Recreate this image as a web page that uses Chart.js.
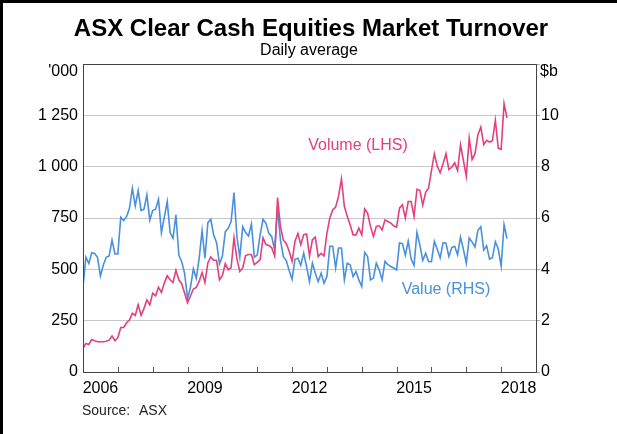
<!DOCTYPE html>
<html>
<head>
<meta charset="utf-8">
<script src="https://cdn.jsdelivr.net/npm/chart.js@4"></script>
<style>
  html, body { margin: 0; padding: 0; background: #fff; }
  #wrap { width: 617px; height: 434px; position: relative; }
</style>
</head>
<body>
<div id="wrap"><canvas id="turnoverChart" width="617" height="434"></canvas></div>
<script>
// monthly, starting Jan 2006
const startYear = 2006;
const yearLabels = ['2006', '2009', '2012', '2015', '2018'];

// daily average volume, '000 (LHS)
const volume = [
  115, 139, 134, 158, 152, 147, 147, 147, 150, 155, 175, 152,
  167, 217, 217, 240, 253, 286, 276, 327, 276, 310, 351, 327,
  384, 371, 413, 387, 433, 469, 449, 436, 495, 449, 430, 384,
  338, 370, 404, 412, 441, 485, 436, 531, 560, 544, 544, 449,
  469, 528, 498, 507, 654, 551, 490, 507, 567, 572, 572, 523,
  534, 547, 654, 621, 616, 605, 564, 850, 708, 642, 626, 588,
  539, 637, 675, 620, 669, 672, 565, 644, 657, 562, 578, 565,
  676, 750, 790, 803, 856, 940, 807, 758, 717, 668, 668, 701,
  668, 794, 774, 709, 660, 709, 712, 692, 741, 733, 725, 712,
  705, 798, 815, 750, 830, 830, 758, 890, 885, 813, 875, 895,
  981, 1063, 1002, 970, 1014, 1063, 986, 997, 1019, 981, 1107, 1030,
  953, 1139, 1035, 1063, 1156, 1193, 1107, 1128, 1120, 1126, 1226, 1090,
  1084, 1307, 1237
];

// daily average value, $b (RHS)
const value = [
  3.32, 4.47, 4.23, 4.65, 4.62, 4.47, 3.74, 4.17, 4.47, 4.52, 5.14, 4.60,
  4.60, 6.03, 5.90, 6.05, 6.38, 7.16, 6.47, 7.07, 6.29, 6.34, 6.90, 5.92,
  6.29, 6.34, 6.73, 5.43, 6.03, 6.64, 5.43, 5.21, 6.12, 4.56, 4.30, 3.84,
  2.86, 3.30, 4.02, 3.65, 4.43, 5.51, 4.43, 5.82, 5.95, 5.34, 5.04, 4.21,
  4.52, 5.47, 5.60, 5.86, 6.99, 5.27, 4.47, 5.66, 5.43, 5.30, 5.77, 4.47,
  4.56, 5.34, 5.95, 5.79, 5.40, 5.27, 4.75, 6.38, 5.14, 4.49, 4.34, 3.95,
  3.61, 4.39, 4.43, 4.15, 4.63, 4.10, 3.52, 4.24, 3.85, 3.52, 3.85, 3.46,
  3.72, 4.90, 4.90, 4.05, 4.83, 4.83, 3.59, 4.24, 4.18, 3.72, 3.92, 3.59,
  3.33, 4.66, 4.50, 3.59, 3.66, 4.24, 3.98, 3.59, 4.31, 4.18, 4.11, 4.05,
  3.98, 5.03, 5.00, 4.55, 5.10, 4.40, 4.15, 5.44, 4.95, 4.35, 4.63, 4.31,
  4.30, 5.09, 4.78, 4.45, 5.04, 5.02, 4.50, 4.85, 4.90, 4.57, 5.26, 4.78,
  4.24, 5.22, 5.06, 4.87, 5.52, 5.66, 4.75, 4.92, 4.40, 4.45, 5.07, 4.80,
  4.12, 5.74, 5.20
];

const pink = '#e2417c';
const blue = '#4a90dc';
const font = 'Liberation Sans, Arial, sans-serif';

const asPoints = arr => arr.map((v, i) => ({ x: i, y: v }));

const formatThousands = v => {
  if (v >= 1000) return Math.floor(v / 1000) + ' ' + String(v % 1000).padStart(3, '0');
  return String(v);
};

// titles, frame, inner year ticks and series labels
const decorations = {
  id: 'decorations',
  afterDraw(chart) {
    const { ctx, chartArea: a, scales } = chart;
    ctx.save();

    // year boundary ticks pointing up into the plot
    ctx.strokeStyle = '#555';
    ctx.lineWidth = 1;
    for (let m = 12; m < 156; m += 12) {
      const x = Math.round(scales.x.getPixelForValue(m)) + 0.5;
      ctx.beginPath();
      ctx.moveTo(x, a.bottom);
      ctx.lineTo(x, a.bottom - 5);
      ctx.stroke();
    }

    // plot frame
    ctx.strokeStyle = '#444';
    ctx.strokeRect(Math.round(a.left) + 0.5, Math.round(a.top) + 0.5,
      Math.round(a.right - a.left), Math.round(a.bottom - a.top));

    ctx.fillStyle = '#000';
    ctx.textBaseline = 'middle';
    ctx.textAlign = 'center';
    ctx.font = 'bold 24px ' + font;
    ctx.fillText('ASX Clear Cash Equities Market Turnover', 311, 29);
    ctx.font = '16px ' + font;
    ctx.fillText('Daily average', 309, 51);

    ctx.textAlign = 'right';
    ctx.fillText("'000", 78, 72);
    ctx.textAlign = 'left';
    ctx.fillText('$b', 540, 72);

    ctx.font = '14px ' + font;
    ctx.fillStyle = '#222';
    ctx.fillText('Source:', 82, 411);
    ctx.fillText('ASX', 139, 411);

    ctx.font = '16px ' + font;
    ctx.textAlign = 'center';
    ctx.fillStyle = pink;
    ctx.fillText('Volume (LHS)', 358, 146);
    ctx.fillStyle = blue;
    ctx.fillText('Value (RHS)', 446, 290);

    // black edge of the original picture
    ctx.fillStyle = '#000';
    ctx.fillRect(0, 0, 617, 3);
    ctx.fillRect(0, 0, 3, 434);
    ctx.restore();
  }
};

new Chart(document.getElementById('turnoverChart'), {
  type: 'line',
  data: {
    datasets: [
      {
        label: 'Volume (LHS)',
        data: asPoints(volume),
        yAxisID: 'y',
        borderColor: pink,
        borderWidth: 1.6,
        pointRadius: 0,
        tension: 0
      },
      {
        label: 'Value (RHS)',
        data: asPoints(value),
        yAxisID: 'y1',
        borderColor: blue,
        borderWidth: 1.6,
        pointRadius: 0,
        tension: 0
      }
    ]
  },
  options: {
    responsive: false,
    animation: false,
    devicePixelRatio: 1,
    layout: { padding: { top: 64, left: 0, right: 0, bottom: 0 } },
    plugins: {
      legend: { display: false },
      tooltip: { enabled: false }
    },
    scales: {
      x: {
        type: 'linear',
        min: 0,
        max: 156,
        afterFit: s => { s.height = 62; },
        grid: { display: false, drawTicks: false },
        border: { display: true, color: '#444' },
        ticks: {
          stepSize: 6,
          autoSkip: false,
          maxRotation: 0,
          padding: 7,
          color: '#000',
          font: { family: font, size: 16 },
          callback: v => {
            if (v % 12 !== 6) return '';
            const yr = String(startYear + (v - 6) / 12);
            return yearLabels.includes(yr) ? yr : '';
          }
        }
      },
      y: {
        position: 'left',
        min: 0,
        max: 1500,
        afterFit: s => { s.width = 83; },
        grid: { color: '#c8c8c8', lineWidth: 1, drawTicks: false },
        border: { display: true, color: '#444' },
        ticks: {
          stepSize: 250,
          padding: 5,
          color: '#000',
          font: { family: font, size: 16 },
          callback: v => (v === 1500 ? '' : formatThousands(v))
        }
      },
      y1: {
        position: 'right',
        min: 0,
        max: 12,
        afterFit: s => { s.width = 81; },
        grid: { drawOnChartArea: false, drawTicks: true, tickLength: 4, color: '#aaa' },
        border: { display: true, color: '#444' },
        ticks: {
          stepSize: 2,
          padding: 1,
          color: '#000',
          font: { family: font, size: 16 },
          callback: v => (v === 12 ? '' : String(v))
        }
      }
    }
  },
  plugins: [decorations]
});
</script>
</body>
</html>
